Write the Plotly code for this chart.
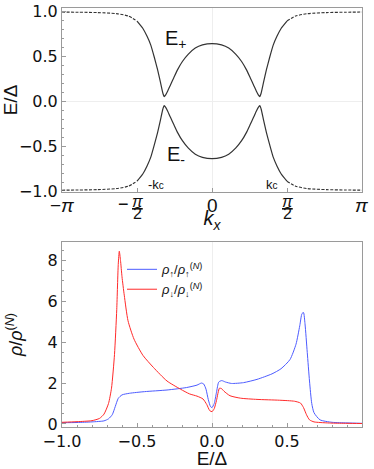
import plotly.graph_objects as go

PI = 3.141592653589793

# top panel: band energies E/Delta vs k_x
k_vals = [-3.1416, -2.8, -2.4, -2.0, -1.75, -1.57, -1.45, -1.36, -1.28, -1.21, -1.14, -1.08, -1.03, -1.0,
          -0.97, -0.93, -0.87, -0.8, -0.72, -0.62, -0.5, -0.35, -0.2, 0.0,
          0.2, 0.35, 0.5, 0.62, 0.72, 0.8, 0.87, 0.93, 0.97, 1.0,
          1.03, 1.08, 1.14, 1.21, 1.28, 1.36, 1.45, 1.57, 1.75, 2.0, 2.4, 2.8, 3.1416]
e_plus = [0.99, 0.988, 0.984, 0.972, 0.945, 0.89, 0.81, 0.72, 0.62, 0.49, 0.35, 0.21, 0.09, 0.05,
          0.07, 0.11, 0.18, 0.26, 0.35, 0.44, 0.52, 0.59, 0.625, 0.64,
          0.625, 0.59, 0.52, 0.44, 0.35, 0.26, 0.18, 0.11, 0.07, 0.05,
          0.09, 0.21, 0.35, 0.49, 0.62, 0.72, 0.81, 0.89, 0.945, 0.972, 0.984, 0.988, 0.99]
e_minus = [-0.99, -0.988, -0.984, -0.972, -0.945, -0.89, -0.81, -0.72, -0.62, -0.49, -0.35, -0.21, -0.09, -0.05,
           -0.07, -0.11, -0.18, -0.26, -0.35, -0.44, -0.52, -0.59, -0.625, -0.64,
           -0.625, -0.59, -0.52, -0.44, -0.35, -0.26, -0.18, -0.11, -0.07, -0.05,
           -0.09, -0.21, -0.35, -0.49, -0.62, -0.72, -0.81, -0.89, -0.945, -0.972, -0.984, -0.988, -0.99]
k_dash = 1.57  # outer part drawn dashed

# bottom panel: spin-resolved DOS
e_up = [-1.0, -0.9, -0.8, -0.72, -0.69, -0.665, -0.645, -0.625, -0.6, -0.55, -0.45, -0.3, -0.17, -0.1,
        -0.07, -0.055, -0.04, -0.025, -0.01, 0.0, 0.015, 0.03, 0.045, 0.065, 0.09, 0.13, 0.21, 0.3,
        0.4, 0.46, 0.52, 0.56, 0.585, 0.6, 0.61, 0.62, 0.635, 0.65, 0.665, 0.68, 0.72, 0.8, 0.9, 1.0]
rho_up = [0.06, 0.07, 0.1, 0.15, 0.25, 0.45, 0.85, 1.25, 1.42, 1.5, 1.58, 1.66, 1.78, 1.9,
          2.0, 1.95, 1.7, 1.2, 0.85, 0.8, 1.0, 1.55, 2.05, 2.12, 2.05, 1.98, 2.02, 2.18,
          2.45, 2.7, 3.15, 3.9, 4.8, 5.4, 5.45, 4.9, 3.5, 2.1, 1.0, 0.55, 0.2, 0.08, 0.05, 0.03]
e_dn = [-1.0, -0.9, -0.8, -0.75, -0.72, -0.69, -0.67, -0.65, -0.635, -0.625, -0.618, -0.61, -0.6, -0.585,
        -0.56, -0.52, -0.46, -0.39, -0.3, -0.21, -0.15, -0.1, -0.06, -0.035, -0.015, 0.0, 0.015, 0.03,
        0.05, 0.065, 0.08, 0.12, 0.19, 0.3, 0.45, 0.55, 0.59, 0.61, 0.63, 0.65, 0.68, 0.72, 0.8, 0.9, 1.0]
rho_dn = [0.08, 0.11, 0.16, 0.27, 0.48, 1.0, 1.75, 3.4, 5.6, 7.8, 8.45, 8.0, 7.2, 6.3,
          5.05, 4.15, 3.35, 2.76, 2.1, 1.7, 1.47, 1.36, 1.22, 0.95, 0.65, 0.6, 0.75, 1.15,
          1.75, 1.72, 1.6, 1.38, 1.26, 1.2, 1.16, 1.11, 1.02, 0.8, 0.45, 0.2, 0.1, 0.07, 0.04, 0.03, 0.02]

# tick labels of the k_x axis
tick_pos = [-PI, -PI / 2, 0, PI / 2, PI]
tick_main = ["−<i>π</i>", "<u><i>π</i></u>", "0", "<u><i>π</i></u>", "<i>π</i>"]
tick_frac = [False, True, False, True, False]
tick_neg = [False, True, False, False, False]

FONT = "Liberation Sans, Arial, sans-serif"
TICKFONT = "DejaVu Sans, sans-serif"
AX = "#9a9a9a"
LINE = "#333333"

fig = go.Figure()

for e_band in (e_plus, e_minus):
    inner = [(k, e) for k, e in zip(k_vals, e_band) if abs(k) <= k_dash]
    left = [(k, e) for k, e in zip(k_vals, e_band) if k <= -k_dash]
    right = [(k, e) for k, e in zip(k_vals, e_band) if k >= k_dash]
    fig.add_trace(go.Scatter(x=[p[0] for p in inner], y=[p[1] for p in inner], mode="lines",
                             line=dict(color=LINE, width=1.2, shape="spline", smoothing=0.45),
                             showlegend=False, xaxis="x", yaxis="y"))
    for part in (left, right):
        fig.add_trace(go.Scatter(x=[p[0] for p in part], y=[p[1] for p in part], mode="lines",
                                 line=dict(color=LINE, width=1.1, dash="3px,1.5px", shape="spline", smoothing=0.7),
                                 showlegend=False, xaxis="x", yaxis="y"))

fig.add_trace(go.Scatter(x=e_up, y=rho_up, mode="lines", name="<i>ρ</i><sub>↑</sub>/<i>ρ</i><sub>↑</sub><sup>(<i>N</i>)</sup>",
                         line=dict(color="#4d5cff", width=1, shape="spline", smoothing=0.6),
                         xaxis="x2", yaxis="y2"))
fig.add_trace(go.Scatter(x=e_dn, y=rho_dn, mode="lines", name="<i>ρ</i><sub>↓</sub>/<i>ρ</i><sub>↓</sub><sup>(<i>N</i>)</sup>",
                         line=dict(color="#ff2a2a", width=1, shape="spline", smoothing=0.6),
                         xaxis="x2", yaxis="y2"))

common = dict(showline=True, linecolor=AX, linewidth=1, mirror=True, ticks="inside", ticklen=4,
              tickcolor=AX, showgrid=False, automargin=False,
              tickfont=dict(family=TICKFONT, size=16, color="#111"))

fig.update_layout(
    width=374, height=469,
    margin=dict(l=62, r=12, t=8, b=42),
    plot_bgcolor="white", paper_bgcolor="white",
    font=dict(family=FONT, color="#111"),
    xaxis=dict(domain=[0, 1], anchor="y", range=[-PI, PI], tickvals=tick_pos,
               showticklabels=False, zeroline=True, zerolinecolor="#eeeeee", zerolinewidth=1,
               title=dict(text="<i>k<sub>x</sub></i>", font=dict(size=20), standoff=19), **common),
    yaxis=dict(domain=[0.5609, 1], anchor="x", range=[-1.01, 1.035], tickvals=[-1, -0.5, 0, 0.5, 1],
               tickformat=".1f", zeroline=True, zerolinecolor="#eeeeee", zerolinewidth=1,
               minor=dict(ticks="inside", ticklen=2, tickcolor=AX, dtick=0.1),
               title=dict(text="E/Δ", font=dict(size=19), standoff=13), **common),
    xaxis2=dict(domain=[0, 1], anchor="y2", range=[-1, 1], dtick=0.5, tickformat=".1f",
                zeroline=True, zerolinecolor="#eeeeee", zerolinewidth=1,
                minor=dict(ticks="inside", ticklen=2, tickcolor=AX, dtick=0.1),
                title=dict(text="E/Δ", font=dict(size=19), standoff=0), **common),
    yaxis2=dict(domain=[0, 0.4415], anchor="x2", range=[-0.15, 8.9], dtick=2, zeroline=False,
                minor=dict(ticks="inside", ticklen=2, tickcolor=AX, dtick=0.5),
                title=dict(text="<i>ρ</i>/<i>ρ</i><sup>(<i>N</i>)</sup>", font=dict(size=18), standoff=20), **common),
    legend=dict(x=0.2, y=0.412, xanchor="left", yanchor="top", bgcolor="rgba(0,0,0,0)",
                font=dict(family=FONT, size=13), itemwidth=30, tracegroupgap=0),
)

for xv, txt, frac, neg in zip(tick_pos, tick_main, tick_frac, tick_neg):
    if frac:
        fig.add_annotation(x=xv, y=0, xref="x", yref="y domain", text=txt, showarrow=False,
                           yanchor="middle", yshift=-10, font=dict(size=16))
        fig.add_annotation(x=xv, y=0, xref="x", yref="y domain", text="2", showarrow=False,
                           yanchor="middle", yshift=-22, font=dict(size=16))
        if neg:
            fig.add_annotation(x=xv, y=0, xref="x", yref="y domain", text="−", showarrow=False,
                               yanchor="middle", xshift=-14, yshift=-12, font=dict(size=18))
    else:
        fig.add_annotation(x=xv, y=0, xref="x", yref="y domain", text=txt, showarrow=False,
                           yanchor="middle", yshift=-14, font=dict(size=19))

# band labels
fig.add_annotation(x=-0.75, y=0.68, xref="x", yref="y", text="E<sub>+</sub>", showarrow=False,
                   font=dict(size=20))
fig.add_annotation(x=-0.75, y=-0.6, xref="x", yref="y", text="E<sub>-</sub>", showarrow=False,
                   font=dict(size=20))
fig.add_annotation(x=-1.17, y=-0.93, xref="x", yref="y", text="-k<span style='font-size:10px'>c</span>",
                   showarrow=False, font=dict(size=13))
fig.add_annotation(x=1.26, y=-0.93, xref="x", yref="y", text="k<span style='font-size:10px'>c</span>",
                   showarrow=False, font=dict(size=13))

# the page's default body margin would push the figure 8px right and down
fig.write_html("out.html", config={"displayModeBar": False},
               post_script="document.body.style.margin='0';")
